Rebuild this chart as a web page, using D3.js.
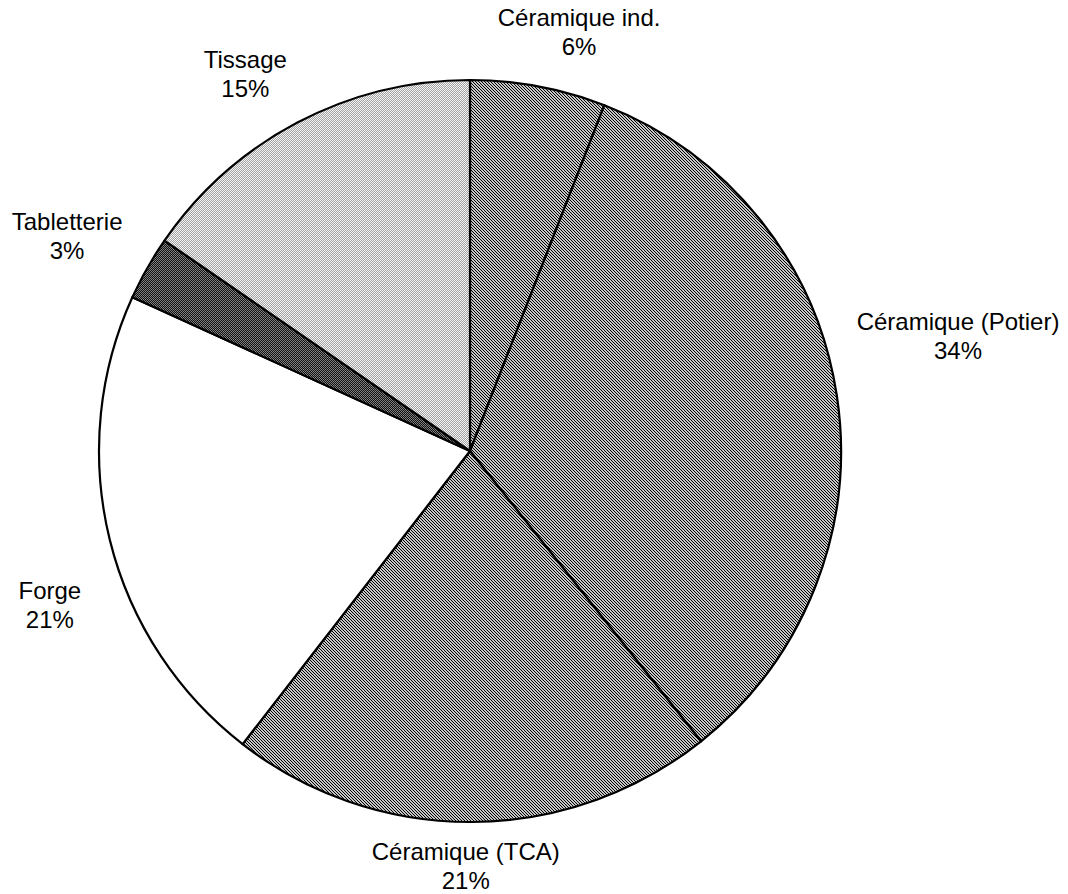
<!DOCTYPE html>
<html>
<head>
<meta charset="utf-8">
<script src="https://cdn.jsdelivr.net/npm/d3@7"></script>
<style>
  body { margin: 0; background: #fff; }
  text { font-family: "Liberation Sans", Arial, Helvetica, sans-serif; font-size: 24px; fill: #000; }
</style>
</head>
<body>
<svg id="chart" width="1068" height="894"></svg>
<script>
// slices, clockwise from 12 o'clock
var categories = ["Céramique ind.", "Céramique (Potier)", "Céramique (TCA)", "Forge", "Tabletterie", "Tissage"];
var shares = [5.9, 33.4, 21.2, 21.3, 2.8, 15.4];
var shareLabels = ["6%", "34%", "21%", "21%", "3%", "15%"];
var fills = ["hatch", "hatch", "hatch", "none", "dark", "light"];

var svg = d3.select("#chart");
var cx = 470, cy = 451, radius = 371;

// screen-like textures
var defs = svg.append("defs");

var hatch = defs.append("pattern")
  .attr("id","hatch")
  .attr("width",3).attr("height",3)
  .attr("patternUnits","userSpaceOnUse");
hatch.append("rect").attr("width",3).attr("height",3).attr("fill","#c6c6c6");
[0,1,2].forEach(function(i) {
  hatch.append("rect").attr("x",i).attr("y",i).attr("width",1).attr("height",1).attr("fill","#000");
});

var light = defs.append("pattern")
  .attr("id","light")
  .attr("width",2).attr("height",2)
  .attr("patternUnits","userSpaceOnUse");
light.append("rect").attr("width",2).attr("height",2).attr("fill","#f6f6f6");
light.append("rect").attr("x",0).attr("y",0).attr("width",1).attr("height",1).attr("fill","#a0a0a0");
light.append("rect").attr("x",1).attr("y",1).attr("width",1).attr("height",1).attr("fill","#a0a0a0");

var dark = defs.append("pattern")
  .attr("id","dark")
  .attr("width",2).attr("height",2)
  .attr("patternUnits","userSpaceOnUse");
dark.append("rect").attr("width",2).attr("height",2).attr("fill","#111");
dark.append("rect").attr("x",1).attr("y",0).attr("width",1).attr("height",1).attr("fill","#8a8a8a");
dark.append("rect").attr("x",0).attr("y",1).attr("width",1).attr("height",1).attr("fill","#777");

var data = categories.map(function(c, i) {
  return { name: c, value: shares[i], label: shareLabels[i], fill: fills[i] };
});

var pie = d3.pie().sort(null).value(function(d) { return d.value; });
var arc = d3.arc().innerRadius(0).outerRadius(radius);
var arcs = pie(data);

var g = svg.append("g").attr("transform","translate(" + cx + "," + cy + ")");

g.selectAll("path.slice")
  .data(arcs)
  .enter().append("path")
  .attr("class","slice")
  .attr("d", arc)
  .attr("fill", function(d) { return d.data.fill == "none" ? "#fff" : "url(#" + d.data.fill + ")"; })
  .attr("stroke","#000")
  .attr("stroke-width",2.2)
  .attr("stroke-linejoin","round");

// labels sit outside the rim, nudged the way the original layout put them
var labelR = 440;
var nudge = [[28,13],[53,-49],[-7,-25],[7,49],[-20,2],[-20,13]];

var labels = g.selectAll("text.lbl")
  .data(arcs)
  .enter().append("text")
  .attr("class","lbl")
  .attr("text-anchor","middle")
  .attr("transform", function(d, i) {
    var a = (d.startAngle + d.endAngle) / 2;
    var x = Math.sin(a) * labelR + nudge[i][0];
    var y = -Math.cos(a) * labelR + nudge[i][1];
    return "translate(" + x + "," + y + ")";
  });
labels.append("tspan").attr("x",0).attr("y",-6).text(function(d) { return d.data.name; });
labels.append("tspan").attr("x",0).attr("y",23).text(function(d) { return d.data.label; });
</script>
</body>
</html>
